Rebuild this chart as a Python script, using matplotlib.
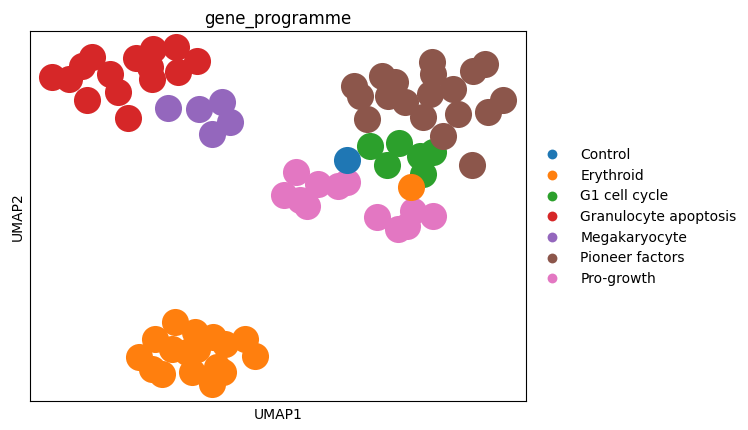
import numpy as np
import matplotlib.pyplot as plt

categorias = ['Control', 'Erythroid', 'G1 cell cycle', 'Granulocyte apoptosis',
              'Megakaryocyte', 'Pioneer factors', 'Pro-growth']
cores = ['#1f77b4', '#ff7f0e', '#2ca02c', '#d62728', '#9467bd', '#8c564b', '#e377c2']

# coordenadas UMAP
umap = {
    'Granulocyte apoptosis': [(52, 353), (69, 351), (92, 373), (82, 364), (110, 356),
                              (118, 338), (87, 330), (128, 312), (136, 372), (153, 381),
                              (176, 383), (197, 369), (152, 351), (178, 358), (150, 363)],
    'Megakaryocyte': [(168, 322), (199, 321), (222, 328), (230, 308), (212, 296)],
    'Pro-growth': [(296, 258), (284, 235), (307, 224), (318, 246), (338, 244), (347, 248),
                   (377, 213), (398, 201), (407, 204), (413, 219), (433, 214), (300, 230)],
    'G1 cell cycle': [(370, 284), (399, 287), (387, 265), (420, 274), (433, 278), (423, 256)],
    'Pioneer factors': [(432, 368), (473, 359), (485, 366), (433, 356), (382, 354), (395, 348),
                        (354, 344), (360, 334), (388, 334), (405, 328), (430, 336), (453, 341),
                        (503, 330), (488, 318), (458, 316), (423, 313), (367, 311), (443, 294),
                        (472, 265)],
    'Control': [(347, 270)],
    'Erythroid': [(175, 108), (195, 98), (155, 91), (213, 93), (225, 86), (245, 91),
                  (139, 73), (172, 81), (187, 78), (255, 74), (152, 61), (162, 56),
                  (192, 58), (217, 63), (223, 58), (212, 46), (197, 81), (411, 243)],
}
ordem = ['Granulocyte apoptosis', 'Megakaryocyte', 'Pro-growth', 'G1 cell cycle',
         'Pioneer factors', 'Control', 'Erythroid']

fig = plt.figure(figsize=(7.48, 4.31), dpi=100)
ax = fig.add_axes([30 / 748, 1 - 402 / 431, 496 / 748, 370 / 431])

for cat in ordem:
    pts = np.array(umap[cat])
    ax.scatter(pts[:, 0], pts[:, 1], s=380, c=cores[categorias.index(cat)],
               linewidths=0, plotnonfinite=True)

ax.set_xlim(30, 526)
ax.set_ylim(29, 399)
ax.set_xticks([])
ax.set_yticks([])
ax.set_title('gene_programme', fontsize=12)
ax.set_xlabel('UMAP1', fontsize=10)
ax.set_ylabel('UMAP2', fontsize=10)

for cat, cor in zip(categorias, cores):
    ax.scatter([], [], c=cor, s=50, label=cat, linewidths=0)
ax.legend(frameon=False, loc='center left', bbox_to_anchor=(1, 0.5),
          fontsize=10, handletextpad=1.0, labelspacing=0.48, markerscale=1)

fig.savefig('out.png', dpi=100)
